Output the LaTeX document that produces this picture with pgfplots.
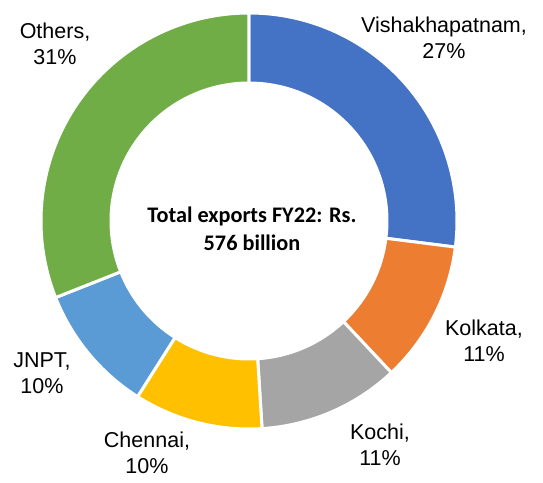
\documentclass[border=0pt]{standalone}
\usepackage{fontspec}
\setmainfont{Liberation Sans}
\newfontfamily\calibri{Carlito}
\usepackage{pgfplots}
\usepackage{pgfplotstable}
\pgfplotsset{compat=1.18}
\usetikzlibrary{calc}

\definecolor{c0}{HTML}{4472C4}
\definecolor{c1}{HTML}{ED7D31}
\definecolor{c2}{HTML}{A5A5A5}
\definecolor{c3}{HTML}{FFC000}
\definecolor{c4}{HTML}{5B9BD5}
\definecolor{c5}{HTML}{70AD47}

% share of exports by port, FY22 (%)
\pgfplotstableread{
port value
Vishakhapatnam 27
Kolkata 11
Kochi 11
Chennai 10
JNPT 10
Others 31
}\exports

\newcommand\lbl{\fontsize{8.6}{10.6}\selectfont}

\begin{document}
\begin{tikzpicture}
\begin{axis}[
    hide axis,
    clip=false,
    x=0.4pt, y=0.4pt,
    xmin=0, xmax=543, ymin=0, ymax=477,
]
\path (axis cs:0,0) rectangle (axis cs:543,477);
\coordinate (c) at (axis cs:249,256);
\def\angA{90}
\pgfplotsforeachungrouped \i in {0,...,5}{
    \pgfplotstablegetelem{\i}{value}\of\exports
    \pgfmathsetmacro\angB{\angA-3.6*\pgfplotsretval}
    \edef\temp{\noexpand\fill[c\i, draw=white, line width=1.2pt]
        ($(c)+(\angA:83.2pt)$) arc[start angle=\angA, end angle=\angB, radius=83.2pt]
        -- ($(c)+(\angB:55.2pt)$) arc[start angle=\angB, end angle=\angA, radius=55.2pt]
        -- cycle;}
    \temp
    \let\angA\angB
}
\node[align=center, font=\lbl] at (axis cs:444,439) {Vishakhapatnam,\\27\%};
\node[align=center, font=\lbl] at (axis cs:484,136) {Kolkata,\\11\%};
\node[align=center, font=\lbl] at (axis cs:380,32) {Kochi,\\11\%};
\node[align=center, font=\lbl] at (axis cs:147,24) {Chennai,\\10\%};
\node[align=center, font=\lbl] at (axis cs:42,104) {JNPT,\\10\%};
\node[align=center, font=\lbl] at (axis cs:55,433) {Others,\\31\%};
\node[align=center, font=\calibri\bfseries\fontsize{8.9}{11}\selectfont]
    at (axis cs:252,248) {Total exports FY22: Rs.\\576 billion};
\end{axis}
\end{tikzpicture}
\end{document}
